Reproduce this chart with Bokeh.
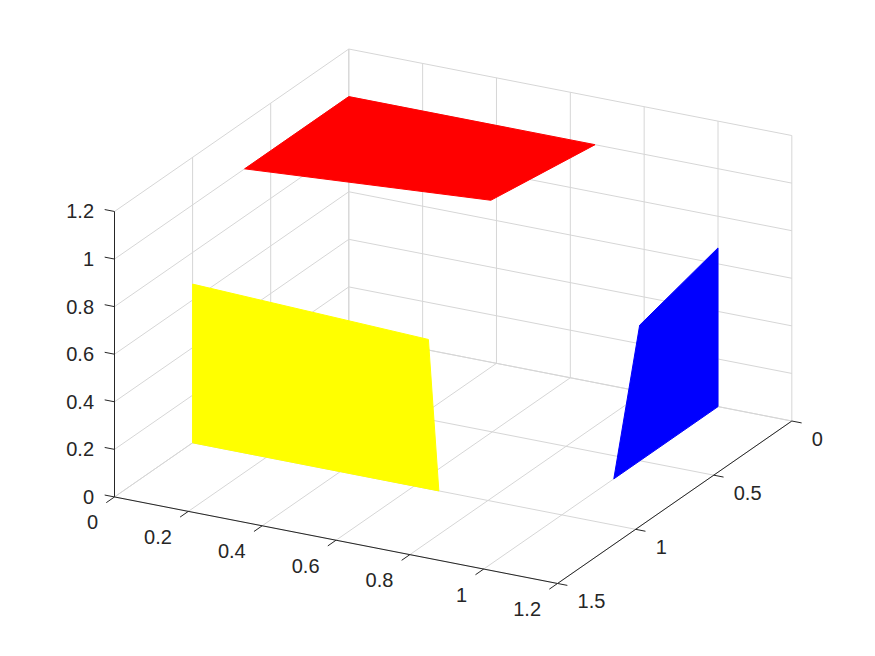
import numpy as np
from bokeh.plotting import figure
from bokeh.models import Range1d
from bokeh.embed import file_html
from bokeh.resources import INLINE
from bokeh.core.properties import value

# ---------------- data ----------------
x_ticks = [0, 0.2, 0.4, 0.6, 0.8, 1.0, 1.2]
x_labels = ["0", "0.2", "0.4", "0.6", "0.8", "1", "1.2"]
y_ticks = [0, 0.5, 1.0, 1.5]
y_labels = ["0", "0.5", "1", "1.5"]
z_ticks = [0, 0.2, 0.4, 0.6, 0.8, 1.0, 1.2]
z_labels = ["0", "0.2", "0.4", "0.6", "0.8", "1", "1.2"]
x_lim = [0, 1.2]
y_lim = [0, 1.5]
z_lim = [0, 1.2]

# surfaces (corner points)
red_x = [0, 0.667, 0.667, 0]
red_y = [0, 0, 0.667, 0.667]
red_z = [1, 1, 1.07, 1]

yellow_x = [0, 0, 0.667, 0.667]
yellow_y = [1, 1, 1.067, 1]
yellow_z = [0, 0.667, 0.667, 0]

blue_x = [1, 1, 1.07, 1]
blue_y = [0, 0, 0.667, 0.667]
blue_z = [0, 0.667, 0.667, 0]

# ---------------- 3D view (orthographic projection, y reversed) ----------------
ORIGIN = (348.3, 334.0)
EX = (369.2, 72.1)
EY = (-156.2, 108.3)
EZ = (0.0, -237.9)


def proj(x, y, z):
    x = np.asarray(x, float)
    y = np.asarray(y, float)
    z = np.asarray(z, float)
    sx = ORIGIN[0] + x * EX[0] + y * EY[0] + z * EZ[0]
    sy = ORIGIN[1] + x * EX[1] + y * EY[1] + z * EZ[1]
    return sx.tolist(), sy.tolist()


def seg_list(segs):
    xs, ys = [], []
    for a, b in segs:
        sx, sy = proj([a[0], b[0]], [a[1], b[1]], [a[2], b[2]])
        xs.append(sx)
        ys.append(sy)
    return xs, ys


p = figure(width=859, height=640, x_range=Range1d(0, 859), y_range=Range1d(640, 0),
           output_backend="svg", toolbar_location=None,
           x_axis_type=None, y_axis_type=None, min_border=0)
p.outline_line_color = None
p.background_fill_color = "white"
p.border_fill_color = "white"

x0, x1 = x_lim
y0, y1 = y_lim
z0, z1 = z_lim

# grid lines on back planes
grid = []
for xt in x_ticks:
    grid.append(((xt, y0, z0), (xt, y1, z0)))
    grid.append(((xt, y0, z0), (xt, y0, z1)))
for yt in y_ticks:
    grid.append(((x0, yt, z0), (x1, yt, z0)))
    grid.append(((x0, yt, z0), (x0, yt, z1)))
for zt in z_ticks:
    grid.append(((x0, y0, zt), (x0, y1, zt)))
    grid.append(((x0, y0, zt), (x1, y0, zt)))
gx, gy = seg_list(grid)
p.multi_line(gx, gy, line_color="#d6d6d6", line_width=1)

# surfaces
for xs, ys, zs, col in [(red_x, red_y, red_z, "#ff0000"),
                        (yellow_x, yellow_y, yellow_z, "#ffff00"),
                        (blue_x, blue_y, blue_z, "#0000ff")]:
    sx, sy = proj(xs, ys, zs)
    p.patch(sx, sy, fill_color=col, line_color=col, line_width=1)

# axis lines
axes = [((x0, y1, z0), (x1, y1, z0)),
        ((x1, y0, z0), (x1, y1, z0)),
        ((x0, y1, z0), (x0, y1, z1))]
# tick marks
tl_x = 10 / np.hypot(*EX)
tl_y = 10 / np.hypot(*EY)
for xt in x_ticks:
    axes.append(((xt, y1, z0), (xt, y1 + tl_y, z0)))
for yt in y_ticks:
    axes.append(((x1, yt, z0), (x1 + tl_x, yt, z0)))
for zt in z_ticks:
    axes.append(((x0, y1, zt), (x0 - tl_x, y1, zt)))
ax, ay = seg_list(axes)
p.multi_line(ax, ay, line_color="#262626", line_width=1)

# tick labels
font = value("Liberation Sans")
fsize = value("20px")
tx, ty = proj(x_ticks, [y1] * len(x_ticks), [z0] * len(x_ticks))
p.text(tx, ty, text=x_labels, x_offset=-16.5, y_offset=25.5, text_align="right",
       text_baseline="middle", text_font=font, text_font_size=fsize, text_color="#262626")
tx, ty = proj([x1] * len(y_ticks), y_ticks, [z0] * len(y_ticks))
p.text(tx, ty, text=y_labels, x_offset=20, y_offset=18, text_align="left",
       text_baseline="middle", text_font=font, text_font_size=fsize, text_color="#262626")
tx, ty = proj([x0] * len(z_ticks), [y1] * len(z_ticks), z_ticks)
p.text(tx, ty, text=z_labels, x_offset=-20.5, y_offset=0, text_align="right",
       text_baseline="middle", text_font=font, text_font_size=fsize, text_color="#262626")

open("out.html", "w").write(file_html(p, INLINE))
